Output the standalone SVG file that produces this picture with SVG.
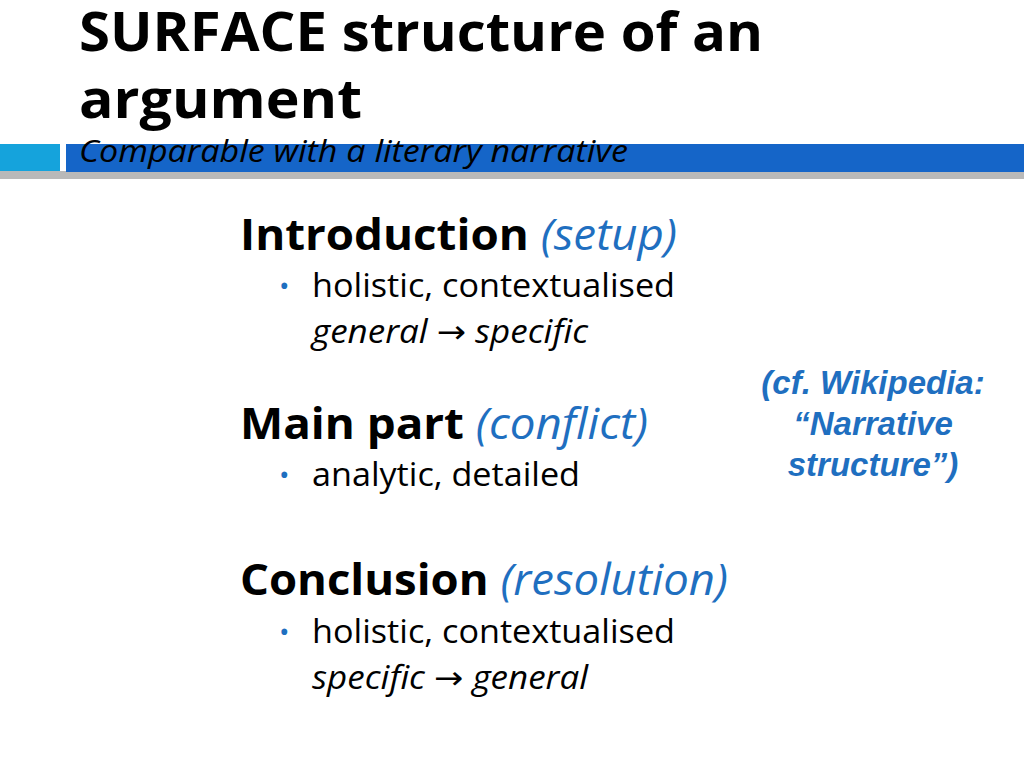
<svg xmlns="http://www.w3.org/2000/svg" width="1024" height="768" viewBox="0 0 1024 768">
<style>
text{font-family:"Open Sans","Noto Sans",sans-serif;fill:#000}
.h{font-size:43px;font-weight:bold}
.hi{font-weight:normal;font-style:italic;fill:#1f6fc0}
.b{font-size:32px}
.i{font-style:italic}
.dot{fill:#1f6fc0;font-size:28px}
.w{font-family:"Liberation Sans",Arial,sans-serif;font-size:33px;font-weight:bold;font-style:italic;fill:#1f6fc0}
</style>
<rect width="1024" height="768" fill="#fff"/>
<rect x="0" y="171" width="1024" height="8" fill="#8a8a8a" opacity="0.6"/>
<rect x="0" y="144" width="60" height="27" fill="#15a3dc"/>
<rect x="66" y="144" width="958" height="28" fill="#1565c8"/>
<text x="79" y="51" style="font-size:54px;font-weight:bold" textLength="684" lengthAdjust="spacingAndGlyphs">SURFACE structure of an</text>
<text x="79" y="118" style="font-size:54px;font-weight:bold" textLength="283" lengthAdjust="spacingAndGlyphs">argument</text>
<text x="79" y="162" class="i" style="font-size:31px" textLength="549" lengthAdjust="spacingAndGlyphs">Comparable with a literary narrative</text>
<g id="intro">
<text x="240" y="250" class="h" textLength="437" lengthAdjust="spacingAndGlyphs">Introduction <tspan class="hi">(setup)</tspan></text>
<text x="279" y="296" class="dot">•</text>
<text x="312" y="297" class="b" textLength="363" lengthAdjust="spacingAndGlyphs">holistic, contextualised</text>
<text x="312" y="343" class="b i" textLength="276" lengthAdjust="spacingAndGlyphs">general <tspan font-family="DejaVu Sans" font-style="normal">→</tspan> specific</text>
</g>
<g id="main">
<text x="240" y="439" class="h" textLength="408" lengthAdjust="spacingAndGlyphs">Main part <tspan class="hi">(conflict)</tspan></text>
<text x="279" y="485" class="dot">•</text>
<text x="312" y="486" class="b" textLength="268" lengthAdjust="spacingAndGlyphs">analytic, detailed</text>
</g>
<g id="concl">
<text x="240" y="595" class="h" textLength="488" lengthAdjust="spacingAndGlyphs">Conclusion <tspan class="hi">(resolution)</tspan></text>
<text x="279" y="642" class="dot">•</text>
<text x="312" y="643" class="b" textLength="363" lengthAdjust="spacingAndGlyphs">holistic, contextualised</text>
<text x="312" y="689" class="b i" textLength="276" lengthAdjust="spacingAndGlyphs">specific <tspan font-family="DejaVu Sans" font-style="normal">→</tspan> general</text>
</g>
<g id="wiki">
<text x="873" y="394" text-anchor="middle" class="w">(cf. Wikipedia:</text>
<text x="873" y="435" text-anchor="middle" class="w">“Narrative</text>
<text x="873" y="476" text-anchor="middle" class="w">structure”)</text>
</g>
</svg>
